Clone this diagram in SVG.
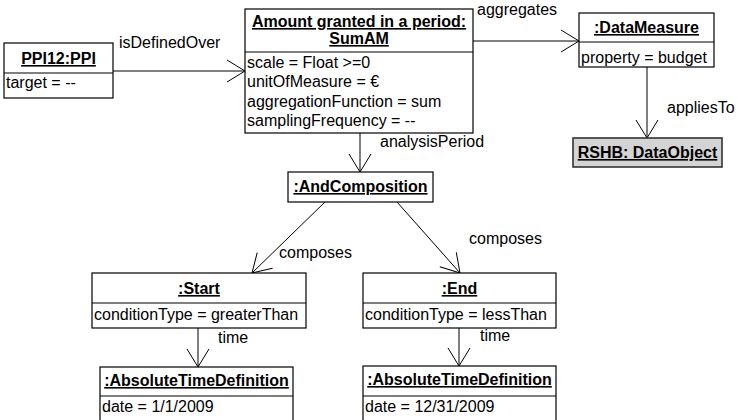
<svg xmlns="http://www.w3.org/2000/svg" width="738" height="420" viewBox="0 0 738 420">
<style>
  text { font-family: "Liberation Sans", Arial, sans-serif; font-size: 16px; fill: #000; }
  .t { font-weight: bold; text-decoration: underline; text-anchor: middle; }
  .box { fill: #fff; stroke: #000; stroke-width: 1.2; }
  .gray { fill: #d4d4d4; stroke: #333; stroke-width: 1.6; }
  .div { stroke: #000; stroke-width: 1.2; }
  .con { stroke: #000; stroke-width: 1; fill: none; marker-end: url(#open); }
</style>
<defs>
  <marker id="open" viewBox="-20 -13 22 26" refX="0" refY="0" markerWidth="22" markerHeight="26" markerUnits="userSpaceOnUse" orient="auto" overflow="visible">
    <path d="M-18,-11 L0,0 L-18,11" fill="none" stroke="#000" stroke-width="1"/>
  </marker>
</defs>
<rect width="738" height="420" fill="#fff"/>

<g id="connectors">
  <line class="con" x1="113" y1="71" x2="245" y2="71"/>
  <line class="con" x1="473" y1="41" x2="579" y2="41"/>
  <line class="con" x1="360" y1="133" x2="360" y2="172"/>
  <line class="con" x1="647" y1="67" x2="647" y2="138"/>
  <line class="con" x1="325" y1="202" x2="252" y2="273"/>
  <line class="con" x1="397" y1="202" x2="460" y2="273"/>
  <line class="con" x1="198" y1="328" x2="198" y2="367"/>
  <line class="con" x1="459" y1="328" x2="459" y2="366"/>
  <text x="119" y="48">isDefinedOver</text>
  <text x="477" y="15">aggregates</text>
  <text x="380" y="147">analysisPeriod</text>
  <text x="667" y="113">appliesTo</text>
  <text x="279" y="258">composes</text>
  <text x="469" y="244">composes</text>
  <text x="218" y="343">time</text>
  <text x="480" y="341">time</text>
</g>

<g id="ppi12">
  <rect class="box" x="4" y="43" width="109" height="55"/>
  <line class="div" x1="4" y1="73" x2="113" y2="73"/>
  <text class="t" x="58.5" y="64">PPI12:PPI</text>
  <text x="6" y="88">target = --</text>
</g>

<g id="sumam">
  <rect class="box" x="245" y="9" width="228" height="124"/>
  <line class="div" x1="245" y1="52" x2="473" y2="52"/>
  <text class="t" x="359" y="27">Amount granted in a period:</text>
  <text class="t" x="359" y="44">SumAM</text>
  <text x="247" y="67.5">scale = Float &gt;=0</text>
  <text x="247" y="87">unitOfMeasure = €</text>
  <text x="247" y="106.5">aggregationFunction = sum</text>
  <text x="247" y="126">samplingFrequency = --</text>
</g>

<g id="datameasure">
  <rect class="box" x="579" y="13" width="135" height="54"/>
  <line class="div" x1="579" y1="42" x2="714" y2="42"/>
  <text class="t" x="646.5" y="33">:DataMeasure</text>
  <text x="581" y="63">property = budget</text>
</g>

<g id="rshb">
  <rect class="gray" x="573" y="138" width="149" height="29"/>
  <text class="t" x="647.5" y="158">RSHB: DataObject</text>
</g>

<g id="andcomposition">
  <rect class="box" x="288" y="172" width="145" height="30"/>
  <text class="t" x="360.5" y="192">:AndComposition</text>
</g>

<g id="start">
  <rect class="box" x="92" y="273" width="214" height="55"/>
  <line class="div" x1="92" y1="303" x2="306" y2="303"/>
  <text class="t" x="199" y="294">:Start</text>
  <text x="94" y="320">conditionType = greaterThan</text>
</g>

<g id="end">
  <rect class="box" x="363" y="273" width="193" height="55"/>
  <line class="div" x1="363" y1="303" x2="556" y2="303"/>
  <text class="t" x="459.5" y="294">:End</text>
  <text x="365" y="320">conditionType = lessThan</text>
</g>

<g id="abstime1">
  <rect class="box" x="100" y="367" width="193" height="70"/>
  <line class="div" x1="100" y1="396" x2="293" y2="396"/>
  <text class="t" x="196.5" y="386">:AbsoluteTimeDefinition</text>
  <text x="102" y="412">date = 1/1/2009</text>
</g>

<g id="abstime2">
  <rect class="box" x="363" y="366" width="193" height="70"/>
  <line class="div" x1="363" y1="396" x2="556" y2="396"/>
  <text class="t" x="459.5" y="385">:AbsoluteTimeDefinition</text>
  <text x="365" y="412">date = 12/31/2009</text>
</g>
</svg>
